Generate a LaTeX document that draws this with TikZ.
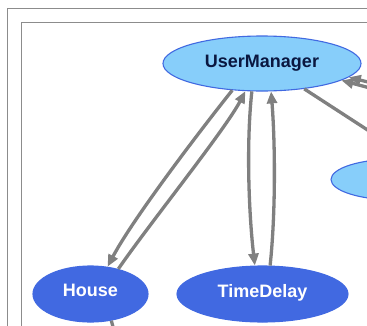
\documentclass[tikz,border=0pt]{standalone}
\usepackage{fontspec}
\setmainfont{Liberation Sans}
\usetikzlibrary{shapes.geometric,arrows.meta}
\definecolor{skyfill}{HTML}{87CEFA}
\definecolor{royal}{HTML}{4169E1}
\definecolor{navytext}{HTML}{0A1740}
\definecolor{edgegray}{HTML}{808080}
\definecolor{framegray}{HTML}{8C8C8C}
\begin{document}
\begin{tikzpicture}[x=1bp,y=-1bp,
  frame/.style={draw=framegray,line width=1.8bp},
  classnode/.style={ellipse,draw=royal,line width=1.1bp,inner sep=0pt},
  lightnode/.style={classnode,fill=skyfill},
  darknode/.style={classnode,fill=royal},
  nametext/.style={font=\bfseries\fontsize{18bp}{20bp}\selectfont,inner sep=0pt,anchor=base},
  link/.style={draw=edgegray,line width=3.3bp},
  arrowlink/.style={link,-{Triangle[length=12bp,width=10bp]}}]
\useasboundingbox (0,0) rectangle (367,326);
\clip (0,0) rectangle (367,326);
\fill[white] (0,0) rectangle (367,326);

% nested package frames
\draw[frame] (7.5,8.5) rectangle (420,400);
\draw[frame] (21.5,22.5) rectangle (420,400);

% classes
\node[lightnode,minimum width=198bp,minimum height=55bp] (um) at (262,63.5) {};
\node[nametext,text=navytext] (umlabel) at ([yshift=-3.5bp]um.center) {UserManager};
\node[darknode,minimum width=115bp,minimum height=56bp] (house) at (90.5,294) {};
\node[nametext,text=white] (houselabel) at ([yshift=-2.7bp]house.center) {House};
\node[darknode,minimum width=171bp,minimum height=56bp] (td) at (262.5,294) {};
\node[nametext,text=white] (tdlabel) at ([yshift=-3bp]td.center) {TimeDelay};
\node[lightnode,minimum width=130bp,minimum height=41bp] (side) at (396,179.5) {};

% far ends of links leaving the visible area
\coordinate (eastA) at (420,164);
\coordinate (eastB) at (400,90);
\coordinate (eastC) at (400,96);
\coordinate (southA) at (118,345);

% dependencies
\draw[arrowlink] (um.222) .. controls (210,118) and (135,215) .. (house.58);
\draw[arrowlink] (house.42) .. controls (150,223) and (225,130) .. (um.239);
\draw[arrowlink] (um.250) .. controls (246,145) and (249,215) .. (td.105);
\draw[arrowlink] (td.75) .. controls (276,210) and (275,140) .. (um.288);
\draw[link] (um.329) -- (eastA);
\draw[arrowlink] (eastB) -- (um.351);
\draw[arrowlink] (eastC) -- (um.348);
\draw[link] (house.308) -- (southA);
\end{tikzpicture}
\end{document}
